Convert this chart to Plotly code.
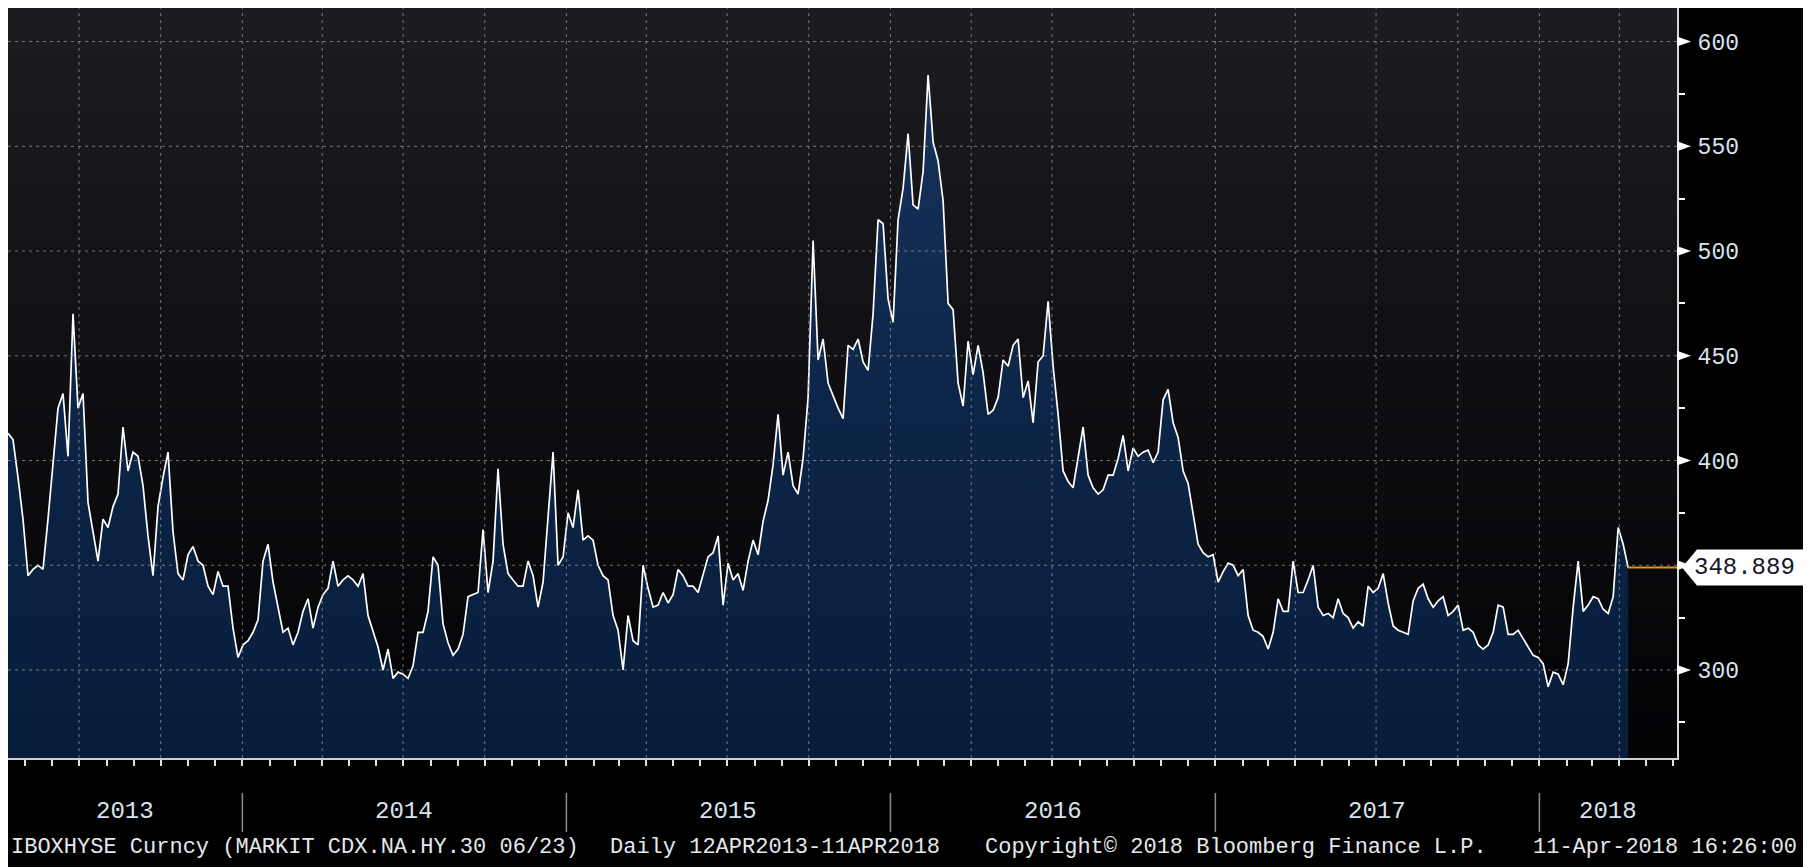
import pandas as pd
import plotly.graph_objects as go

# ---------------- data ----------------
start_date = "2013-04-12"
end_date = "2018-04-11"
axis_end = "2018-06-05"

spread_2013_14 = [413, 410, 392, 372, 345, 348, 350, 348, 372, 400,
                  425, 432, 402, 470, 425, 432, 380, 366, 352, 372,
                  368, 378, 384, 416, 395, 404, 402, 388, 364, 345,
                  378, 392, 404, 366, 346, 343, 355, 359, 352, 350,
                  340, 336, 347, 340, 340, 320, 306, 312, 314, 318,
                  324, 352, 360, 342, 330, 318, 320, 312, 318, 328,
                  334, 320, 330, 336, 339, 352, 340, 343, 345, 343,
                  340, 346, 326, 319, 311, 300, 310, 296, 299]
spread_2014_15 = [298, 296, 302, 318, 318, 328, 354, 350, 322, 313,
                  307, 310, 317, 335, 336, 337, 367, 337, 352, 396,
                  360, 346, 343, 340, 340, 352, 345, 330, 342, 372,
                  404, 350, 354, 375, 368, 386, 362, 364, 362, 350,
                  345, 343, 326, 319, 300, 326, 314, 312, 350, 339,
                  330, 331, 337, 332, 336, 348, 345, 340, 340, 337,
                  345, 354, 356, 364, 331, 351, 343, 346, 338, 352,
                  362, 355, 371, 381, 398, 422, 393, 404, 388, 384]
spread_2015_16 = [401, 430, 505, 448, 458, 437, 431, 425, 420, 455,
                  453, 458, 447, 443, 470, 515, 513, 477, 466, 515,
                  530, 556, 522, 520, 538, 584, 552, 543, 524, 475,
                  472, 437, 426, 457, 441, 455, 442, 422, 424, 430,
                  448, 445, 455, 458, 430, 438, 418, 447, 450, 476,
                  445, 422, 395, 390, 387, 401, 416, 393, 387, 384,
                  386, 393, 393, 401, 412, 395, 406, 402, 404, 405]
spread_2016_18 = [399, 404, 429, 434, 418, 411, 395, 389, 375, 360,
                  356, 354, 355, 342, 347, 351, 350, 345, 348, 326,
                  319, 318, 316, 310, 318, 334, 328, 328, 352, 337,
                  337, 343, 350, 330, 326, 327, 325, 334, 327, 325,
                  320, 323, 321, 340, 337, 339, 346, 332, 321, 319,
                  318, 317, 333, 339, 341, 334, 330, 333, 335, 326,
                  328, 331, 319, 320, 318, 312, 310, 312, 318, 331,
                  330, 317, 317, 319, 315, 311, 307, 306, 303, 292,
                  299, 298, 293, 303, 330, 352, 328, 331, 335, 334,
                  329, 327, 335, 368, 360, 348.889]

values = spread_2013_14 + spread_2014_15 + spread_2015_16 + spread_2016_18
dates = pd.date_range(start_date, end_date, periods=len(values))
last_value = values[-1]

year_labels = ["2013", "2014", "2015", "2016", "2017", "2018"]
y_ticks = [300, 350, 400, 450, 500, 550, 600]
y_minor = [275, 325, 375, 425, 475, 525, 575]
y_range = [258, 616]

footer_texts = ["IBOXHYSE Curncy (MARKIT CDX.NA.HY.30 06/23)",
                "Daily 12APR2013-11APR2018",
                "Copyright\u00a9 2018 Bloomberg Finance L.P.",
                "11-Apr-2018 16:26:00"]
footer_px = [1, 600, 975, 1523]   # left pixel of each footer text inside the figure

# ---------------- figure ----------------
# the page body adds an 8px white margin, so the figure sits at (8, 8)
W, H = 1795, 859
ML, MR, MT, MB = 0, 126, 0, 109
PW, PH = W - ML - MR, H - MT - MB

MONO = "Liberation Mono"
TXT = "#d8e3ee"

fig = go.Figure()

fig.add_trace(go.Scatter(
    x=dates, y=values, mode="lines",
    line=dict(color="white", width=1.7),
    fill="tozeroy",
    fillgradient=dict(type="vertical",
                      colorscale=[[0, "#071d3b"], [0.5, "#0d2548"], [1, "#18355f"]],
                      start=y_range[0], stop=600),
    hoverinfo="skip", showlegend=False,
))

shapes = []

# plot background gradient (bands)
n_bands = 120
top_c, bot_c = (29, 29, 33), (2, 2, 5)
for i in range(n_bands):
    t = (i + 0.5) / n_bands
    c = tuple(int(round(bot_c[k] + (top_c[k] - bot_c[k]) * t)) for k in range(3))
    shapes.append(dict(type="rect", xref="paper", yref="paper",
                       x0=0, x1=1, y0=i / n_bands, y1=(i + 1) / n_bands + 0.001,
                       fillcolor="rgb(%d,%d,%d)" % c, line=dict(width=0), layer="below"))

grid_style = dict(color="rgba(150,150,150,0.75)", width=1, dash="3px,4px")
for v in y_ticks:
    shapes.append(dict(type="line", xref="paper", yref="y", x0=0, x1=1, y0=v, y1=v,
                       line=grid_style, layer="above"))
quarters = pd.date_range("2013-07-01", axis_end, freq="QS")
for q in quarters:
    shapes.append(dict(type="line", xref="x", yref="paper", x0=q, x1=q, y0=0, y1=1,
                       line=grid_style, layer="above"))

# triangle markers on labelled y ticks
for v in y_ticks:
    shapes.append(dict(type="path", xref="paper", yref="y",
                       xsizemode="pixel", ysizemode="pixel", xanchor=1, yanchor=v,
                       path="M0,5 L14,0 L0,-5 Z", fillcolor="white",
                       line=dict(width=0), layer="above"))

# year separators
for yr in year_labels[1:]:
    d = pd.Timestamp(yr + "-01-01")
    shapes.append(dict(type="line", xref="x", yref="paper", x0=d, x1=d,
                       y0=-35 / PH, y1=-74 / PH,
                       line=dict(color="#8c8c8c", width=1.5), layer="above"))

# last value line + label box
shapes.append(dict(type="line", xref="x", yref="y", x0=dates[-1], x1=axis_end,
                   y0=last_value, y1=last_value,
                   line=dict(color="#e8921c", width=2), layer="above"))
shapes.append(dict(type="path", xref="paper", yref="y",
                   xsizemode="pixel", ysizemode="pixel", xanchor=1, yanchor=last_value,
                   path="M5,0 L20,18 L126,18 L126,-18 L20,-18 Z", fillcolor="white",
                   line=dict(width=0), layer="above"))

annotations = []
# year labels centered in each year's segment
x0_axis = pd.Timestamp(start_date)
x1_axis = pd.Timestamp(axis_end)
for yr in year_labels:
    a = max(pd.Timestamp(yr + "-01-01"), x0_axis)
    b = min(pd.Timestamp(str(int(yr) + 1) + "-01-01"), x1_axis)
    mid = a + (b - a) / 2
    annotations.append(dict(x=mid, y=-53 / PH, xref="x", yref="paper", text=yr,
                            showarrow=False, xanchor="center", yanchor="middle",
                            font=dict(family=MONO, size=24, color=TXT)))
for txt, px in zip(footer_texts, footer_px):
    annotations.append(dict(x=(px - ML) / PW, y=-89 / PH, xref="paper", yref="paper", text=txt,
                            showarrow=False, xanchor="left", yanchor="middle",
                            font=dict(family=MONO, size=22, color="#e4e8ec")))
annotations.append(dict(x=1, y=last_value, xref="paper", yref="y", text="%.3f" % last_value,
                        showarrow=False, xanchor="left", yanchor="middle", xshift=15,
                        font=dict(family=MONO, size=24, color="#15152a")))

fig.update_layout(
    width=W, height=H,
    margin=dict(l=ML, r=MR, t=MT, b=MB, autoexpand=False),
    paper_bgcolor="black",
    plot_bgcolor="rgba(0,0,0,0)",
    showlegend=False,
    shapes=shapes,
    annotations=annotations,
    xaxis=dict(type="date", range=[start_date, axis_end],
               showgrid=False, zeroline=False,
               ticks="outside", dtick="M1", tick0="2013-01-01",
               ticklen=6, tickwidth=1.5, tickcolor="#e0e0e0",
               showticklabels=False,
               showline=True, linecolor="#cfcfcf", linewidth=2),
    yaxis=dict(side="right", range=y_range,
               tickvals=y_ticks, ticktext=[str(v) for v in y_ticks],
               ticks="outside", ticklen=14, tickcolor="rgba(0,0,0,0)",
               tickfont=dict(family=MONO, size=23, color=TXT),
               minor=dict(tickvals=y_minor, ticks="outside", ticklen=6,
                          tickcolor="white", tickwidth=1.5, showgrid=False),
               showgrid=False, zeroline=False,
               showline=True, linecolor="#d8d8d8", linewidth=2),
)

fig.write_html("out.html")
